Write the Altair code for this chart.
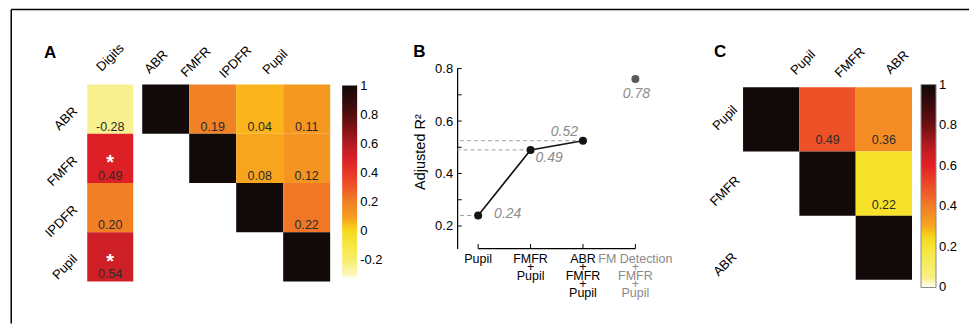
import altair as alt
import pandas as pd

FONT = "Liberation Sans"

# ---------------- Panel A data ----------------
a_vars = ["ABR", "FMFR", "IPDFR", "Pupil"]
digits_r = [-0.28, 0.49, 0.20, 0.54]
digits_sig = ["", "*", "", "*"]

a_rows = ["ABR", "ABR", "ABR", "ABR", "FMFR", "FMFR", "FMFR", "IPDFR", "IPDFR", "Pupil"]
a_cols = ["ABR", "FMFR", "IPDFR", "Pupil", "FMFR", "IPDFR", "Pupil", "IPDFR", "Pupil", "Pupil"]
a_vals = [1, 0.19, 0.04, 0.11, 1, 0.08, 0.12, 1, 0.22, 1]
a_legend_values = [1, 0.8, 0.6, 0.4, 0.2, 0, -0.2]

# ---------------- Panel B data ----------------
b_models = ["Pupil", "FMFR+Pupil", "ABR+FMFR+Pupil", "FM Detection+FMFR+Pupil"]
b_r2 = [0.24, 0.49, 0.525, 0.76]
b_text = ["0.24", "0.49", "0.52", "0.78"]
b_kind = ["fit", "fit", "fit", "alt"]
b_yticks = [0.2, 0.3, 0.4, 0.5, 0.6, 0.7, 0.8]
b_ylabels = [0.2, 0.4, 0.6, 0.8]

# ---------------- Panel C data ----------------
c_vars = ["Pupil", "FMFR", "ABR"]
c_rows = ["Pupil", "Pupil", "Pupil", "FMFR", "FMFR", "ABR"]
c_cols = ["Pupil", "FMFR", "ABR", "FMFR", "ABR", "ABR"]
c_vals = [1, 0.49, 0.36, 1, 0.22, 1]
c_legend_values = [1, 0.8, 0.6, 0.4, 0.2, 0]

# ---------------- colour map (fraction of range -> colour) ----------------
cmap_pos = [0.0, 0.04, 0.15, 0.24, 0.28, 0.33, 0.40, 0.47, 0.60, 0.66, 0.80, 0.90, 1.0]
cmap_col = ["#fffef4", "#f9f08a", "#f6ea50", "#f6e01c", "#f9b31b", "#f59820", "#f07e26",
            "#ee5a27", "#e41f26", "#cc1f26", "#701012", "#3a0b0c", "#110909"]

# small margins beyond the end ticks keep the end labels centred on their ticks
domA = [round(-0.33 + f * 1.33, 4) for f in cmap_pos]
domA[-1] = 1.002
domC = list(cmap_pos)
domC[0] = -0.002
domC[-1] = 1.002
colA = alt.Scale(domain=domA, range=cmap_col, interpolate="rgb", clamp=True)
colC = alt.Scale(domain=domC, range=cmap_col, interpolate="rgb", clamp=True)

H = 213
one = pd.DataFrame({"k": [0]})
NUM_COLOR = "#2b2b2b"

# ================= Panel A: Digits column =================
dig_df = pd.DataFrame({"row": a_vars, "col": ["Digits"] * 4, "r": digits_r, "sig": digits_sig})
dig_df["txt"] = [f"{v:.2f}" for v in digits_r]

yA = alt.Y("row:N", scale=alt.Scale(domain=a_vars, range=[16, 213], paddingInner=0, paddingOuter=0), axis=None)
xD = alt.X("col:N", scale=alt.Scale(domain=["Digits"], range=[0, 46], paddingInner=0, paddingOuter=0), axis=None)

bd = alt.Chart(dig_df)
d_rect = bd.mark_rect().encode(x=xD, y=yA, color=alt.Color("r:Q", scale=colA, legend=None))
d_num = bd.mark_text(dy=17.5, fontSize=12.5, color=NUM_COLOR).encode(x=xD, y=yA, text="txt:N")
d_star = bd.mark_text(dy=5, fontSize=20, fontWeight="bold", color="white").encode(x=xD, y=yA, text="sig:N")
d_rowlab = bd.mark_text(align="right", baseline="middle", angle=315, fontSize=13, color="black").encode(
    x=alt.value(-12), y=yA, text="row:N")
d_head = alt.Chart(pd.DataFrame({"col": ["Digits"]})).mark_text(
    angle=315, align="center", baseline="middle", fontSize=13, color="black").encode(
    x=xD, y=alt.value(-11), text="col:N")
frame_left = alt.Chart(one).mark_rule(color="black", strokeWidth=1.5).encode(
    x=alt.value(-76), y=alt.value(-59), y2=alt.value(255))
frame_top = alt.Chart(one).mark_rule(color="black", strokeWidth=1.5).encode(
    x=alt.value(-76), x2=alt.value(882), y=alt.value(-59))
lab_a = alt.Chart(one).mark_text(text="A", fontSize=17, fontWeight="bold", align="center",
                                 baseline="middle", color="black").encode(x=alt.value(-37), y=alt.value(-16))

digits = alt.layer(d_rect, d_num, d_star, d_rowlab, d_head, frame_left, frame_top, lab_a).properties(
    width=55, height=H)

# ================= Panel A: correlation matrix =================
ma_df = pd.DataFrame({"row": a_rows, "col": a_cols, "r": a_vals})
ma_df["txt"] = ["" if r == c else f"{v:.2f}" for r, c, v in zip(a_rows, a_cols, a_vals)]

xA = alt.X("col:N", scale=alt.Scale(domain=a_vars, range=[0, 188], paddingInner=0, paddingOuter=0), axis=None)
legA = alt.Legend(orient="none", legendX=200, legendY=17, direction="vertical", title=None,
                  gradientLength=193, gradientThickness=15, values=a_legend_values,
                  labelFontSize=13, labelOffset=3, labelColor="black",
                  gradientStrokeWidth=0, padding=0, labelOverlap=False,
                  labelExpr="datum.value == 1 ? '1' : datum.value == 0 ? '0' : (datum.value < 0 ? '-' : '') + format(abs(datum.value), '.1f')")

bm = alt.Chart(ma_df)
m_rect = bm.mark_rect().encode(x=xA, y=yA, color=alt.Color("r:Q", scale=colA, legend=legA))
m_num = bm.mark_text(dy=17.5, fontSize=12.5, color=NUM_COLOR).encode(x=xA, y=yA, text="txt:N")
m_head = alt.Chart(pd.DataFrame({"col": a_vars})).mark_text(
    angle=315, align="center", baseline="middle", fontSize=13, color="black").encode(
    x=alt.X("col:N", scale=alt.Scale(type="point", domain=a_vars, range=[14, 133], padding=0), axis=None),
    y=alt.value(-6.5), text="col:N")

matA = alt.layer(m_rect, m_num, m_head).resolve_scale(x="independent").properties(width=314.7, height=H)

# ================= Panel B =================
b_df = pd.DataFrame({"model": b_models, "r2": b_r2, "txt": b_text, "kind": b_kind})
b_df["label"] = [m.replace("+", "\n+\n") for m in b_models]

xB = alt.X("model:N", sort=b_models,
           scale=alt.Scale(type="point", domain=b_models, range=[21, 178.3], padding=0), axis=None)
yAxis = alt.Axis(values=b_ylabels, format=".1f", ticks=False, grid=False, domain=True,
                 domainColor="black", domainWidth=1.2, labelFontSize=13, labelPadding=4.5,
                 labelColor="black", title="Adjusted R²", titleFontSize=14.5,
                 titleFontWeight="normal", titleColor="black", titlePadding=7, titleY=83)
yScaleB = alt.Scale(domain=[0.114, 0.8], range=[180, 0], zero=False, nice=False)


def yB(field):
    return alt.Y(f"{field}:Q", scale=yScaleB, axis=yAxis)


bb = alt.Chart(b_df)
fit = bb.transform_filter("datum.kind == 'fit'")
b_dash = fit.mark_rule(strokeDash=[4, 3], color="#a0a0a0", strokeWidth=1).encode(
    x=xB, x2=alt.value(0), y=yB("r2"))
b_ticks = alt.Chart(pd.DataFrame({"t": b_yticks})).mark_rule(color="black", strokeWidth=1).encode(
    x=alt.value(0), x2=alt.value(4.5), y=yB("t"))
b_line = fit.mark_line(color="#141414", strokeWidth=1.6).encode(x=xB, y=yB("r2"))
b_pts = bb.mark_point(filled=True, size=64, opacity=1).encode(
    x=xB, y=yB("r2"),
    color=alt.Color("kind:N", scale=alt.Scale(domain=["fit", "alt"], range=["#141414", "#5a5a5a"]), legend=None))

lab_style = dict(fontSize=14, fontStyle="italic", color="#8c8c8c", baseline="middle")
b_l0 = bb.transform_filter(alt.datum.txt == "0.24").mark_text(align="left", dx=16, dy=-1.5, **lab_style).encode(
    x=xB, y=yB("r2"), text="txt:N")
b_l1 = bb.transform_filter(alt.datum.txt == "0.49").mark_text(align="left", dx=5, dy=8, **lab_style).encode(
    x=xB, y=yB("r2"), text="txt:N")
b_l2 = bb.transform_filter(alt.datum.txt == "0.52").mark_text(align="right", dx=-5, dy=-9, **lab_style).encode(
    x=xB, y=yB("r2"), text="txt:N")
b_l3 = bb.transform_filter(alt.datum.txt == "0.78").mark_text(align="center", dx=1, dy=15, **lab_style).encode(
    x=xB, y=yB("r2"), text="txt:N")

span_df = pd.DataFrame({"start": [b_models[0]], "end": [b_models[-1]]})
b_xline = alt.Chart(span_df).mark_rule(color="black", strokeWidth=1.2).encode(
    x=alt.X("start:N", sort=b_models,
            scale=alt.Scale(type="point", domain=b_models, range=[21, 178.3], padding=0), axis=None),
    x2="end:N", y=alt.value(180))
b_xticks = bb.mark_rule(color="black", strokeWidth=1).encode(x=xB, y=alt.value(180), y2=alt.value(175.5))
xl_style = dict(align="center", baseline="top", lineBreak="\n", lineHeight=8.5, fontSize=12.5)
b_xlab = fit.mark_text(color="black", **xl_style).encode(x=xB, y=alt.value(184), text="label:N")
b_xlab2 = bb.transform_filter("datum.kind == 'alt'").mark_text(color="#8a8a8a", **xl_style).encode(
    x=xB, y=alt.value(184), text="label:N")
lab_b = alt.Chart(one).mark_text(text="B", fontSize=17, fontWeight="bold", align="center",
                                 baseline="middle", color="black").encode(x=alt.value(-37.7), y=alt.value(-17))

panB = alt.layer(b_dash, b_ticks, b_line, b_pts, b_l0, b_l1, b_l2, b_l3,
                 b_xline, b_xticks, b_xlab, b_xlab2, lab_b).properties(width=285.3, height=H)

# ================= Panel C =================
c_df = pd.DataFrame({"row": c_rows, "col": c_cols, "r": c_vals})
c_df["txt"] = ["" if r == c else f"{v:.2f}" for r, c, v in zip(c_rows, c_cols, c_vals)]

xC = alt.X("col:N", scale=alt.Scale(domain=c_vars, range=[0, 169], paddingInner=0, paddingOuter=0), axis=None)
yC = alt.Y("row:N", scale=alt.Scale(domain=c_vars, range=[18.7, 211.3], paddingInner=0, paddingOuter=0), axis=None)
legC = alt.Legend(orient="none", legendX=178, legendY=16, direction="vertical", title=None,
                  gradientLength=203, gradientThickness=15, values=c_legend_values,
                  labelFontSize=13, labelOffset=3, labelColor="black",
                  gradientStrokeColor="#8a8a8a", gradientStrokeWidth=1, padding=0, labelOverlap=False,
                  labelExpr="datum.value == 1 ? '1' : datum.value == 0 ? '0' : format(datum.value, '.1f')")

bc = alt.Chart(c_df)
c_rect = bc.mark_rect().encode(x=xC, y=yC, color=alt.Color("r:Q", scale=colC, legend=legC))
c_num = bc.mark_text(dy=21, fontSize=12.5, color=NUM_COLOR).encode(x=xC, y=yC, text="txt:N")
c_head = alt.Chart(pd.DataFrame({"col": c_vars})).mark_text(
    angle=315, align="center", baseline="middle", fontSize=13, color="black").encode(
    x=alt.X("col:N", scale=alt.Scale(type="point", domain=c_vars, range=[60, 154], padding=0), axis=None),
    y=alt.value(-6), text="col:N")
c_rowlab = alt.Chart(pd.DataFrame({"row": c_vars})).mark_text(
    angle=315, align="center", baseline="middle", fontSize=13, color="black").encode(
    y=alt.Y("row:N", scale=alt.Scale(type="point", domain=c_vars, range=[49.5, 196], padding=0), axis=None),
    x=alt.value(-18), text="row:N")
lab_c = alt.Chart(one).mark_text(text="C", fontSize=17, fontWeight="bold", align="center",
                                 baseline="middle", color="black").encode(x=alt.value(-23), y=alt.value(-17))

panC = alt.layer(c_rect, c_num, c_head, c_rowlab, lab_c).resolve_scale(
    x="independent", y="independent").properties(width=169, height=H)

chart = alt.hconcat(digits, matA, panB, panC, spacing=0, bounds="flush").resolve_scale(
    color="independent", x="independent", y="independent"
).properties(
    padding={"left": 2.25, "top": 0.55, "right": 0, "bottom": 0}
).configure(font=FONT).configure_view(stroke=None)

chart.save("out.html", embed_options={"renderer": "svg", "actions": False})
